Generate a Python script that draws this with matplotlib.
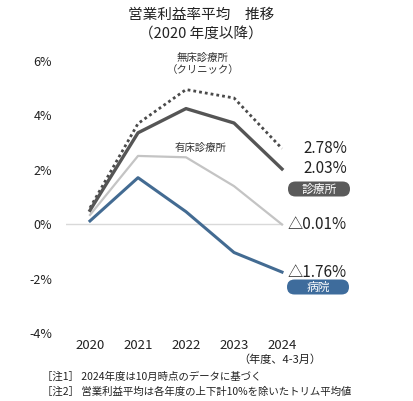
import matplotlib
matplotlib.use("Agg")
import matplotlib.pyplot as plt
from matplotlib.patches import FancyBboxPatch

plt.rcParams["font.family"] = ["Noto Sans CJK JP", "DejaVu Sans"]
plt.rcParams["axes.unicode_minus"] = False

# データ (営業利益率, %)
years = [2020, 2021, 2022, 2023, 2024]
mushou = [0.60, 3.70, 4.95, 4.64, 2.78]     # 無床診療所（クリニック）
shinryojo = [0.51, 3.36, 4.25, 3.72, 2.03]  # 診療所
yushou = [0.34, 2.51, 2.46, 1.40, -0.01]    # 有床診療所
byoin = [0.12, 1.71, 0.46, -1.04, -1.76]    # 病院
y_ticks = [-4, -2, 0, 2, 4, 6]
end_labels = ["2.78%", "2.03%", "△0.01%", "△1.76%"]

W, H = 414, 401
fig = plt.figure(figsize=(W / 100, H / 100), dpi=100)
ax = fig.add_axes([66 / W, 1 - 333 / H, (W - 66) / W, (333 - 61) / H])
ax.set_xlim(2019.5, 2019.5 + (W - 66) / 48)
ax.set_ylim(-4, 6)
for s in ax.spines.values():
    s.set_visible(False)

ax.plot([2019.5, 2024], [0, 0], color="#d9d9d9", lw=1, zorder=1)
ax.plot(years, yushou, color="#c4c4c4", lw=1.6, zorder=2)
ax.plot(years, byoin, color="#436b92", lw=2.2, zorder=3)
ax.plot(years, mushou, color="#4a4a4a", lw=2.0, dashes=(1, 1.1), zorder=3)
ax.plot(years, shinryojo, color="#555555", lw=2.4, zorder=4)

ax.set_yticks(y_ticks)
ax.set_yticklabels([f"{t}%" for t in y_ticks], fontsize=9, color="#222222")
ax.set_xticks(years)
ax.set_xticklabels([str(y) for y in years], fontsize=9.5, color="#222222")
ax.tick_params(axis="y", length=0, pad=10)
ax.tick_params(axis="x", length=0, pad=4)

# 末尾の数値ラベル
for vals, lab in zip([mushou, shinryojo, yushou, byoin], end_labels):
    ax.annotate(lab, (years[-1], vals[-1]), xytext=(65, 0), textcoords="offset pixels",
                ha="right", va="center", fontsize=11, color="#222222")

# 系列名
ax.text(2022.35, 5.9, "無床診療所\n（クリニック）", ha="center", va="center",
        fontsize=7.5, color="#333333", linespacing=1.2)
ax.text(2022.3, 2.8, "有床診療所", ha="center", va="center", fontsize=7.5, color="#333333")

# バッジ
def badge(cx, cy, text, color):
    w, h = 0.62, 0.15
    x0 = cx / 100 - w / 2
    y0 = (H - cy) / 100 - h / 2
    p = FancyBboxPatch((x0, y0), w, h, boxstyle="round,pad=0,rounding_size=0.075",
                       transform=fig.dpi_scale_trans, facecolor=color, edgecolor="none")
    fig.patches.append(p)
    fig.text(cx / W, 1 - cy / H, text, ha="center", va="center", fontsize=8.5, color="white")

badge(319, 189, "診療所", "#5a5a5a")
badge(318, 287, "病院", "#3e6c9c")

# タイトル
fig.text(201 / W, 1 - 15 / H, "営業利益率平均　推移", ha="center", va="center",
         fontsize=10.5, color="#222222")
fig.text(201 / W, 1 - 35 / H, "（2020 年度以降）", ha="center", va="center",
         fontsize=10.5, color="#222222")

# 注記
fig.text(280 / W, 1 - 360 / H, "（年度、4-3月）", ha="center", va="center", fontsize=8, color="#222222")
fig.text(42 / W, 1 - 377 / H, "［注1］ 2024年度は10月時点のデータに基づく", ha="left", va="center",
         fontsize=7.5, color="#222222")
fig.text(42 / W, 1 - 392 / H, "［注2］ 営業利益平均は各年度の上下計10%を除いたトリム平均値",
         ha="left", va="center", fontsize=7.5, color="#222222")

fig.savefig("out.png", dpi=100)
